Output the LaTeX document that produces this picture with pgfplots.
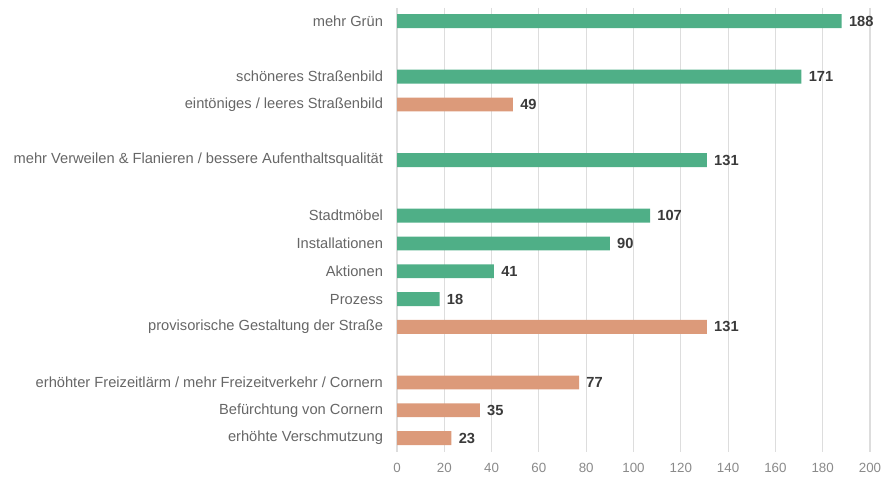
\documentclass[border=0pt]{standalone}
\usepackage{fontspec}
\setmainfont{Liberation Sans}
\usepackage{pgfplots}
\pgfplotsset{compat=1.18}

\definecolor{pos}{HTML}{4FAF87}
\definecolor{neg}{HTML}{DC9A7A}
\definecolor{gridc}{HTML}{DDDDDD}
\definecolor{labc}{HTML}{666666}
\definecolor{tickc}{HTML}{8A8A8A}
\definecolor{valc}{HTML}{3A3A3A}

\begin{document}
\begin{tikzpicture}
\path[use as bounding box] (0pt,0pt) rectangle (660.75pt,357.75pt);
\begin{axis}[
    at={(297.75pt,18.75pt)}, anchor=south west,
    scale only axis,
    width=354.75pt, height=333pt,
    xbar, bar width=0.5, bar shift=0pt,
    xmin=0, xmax=200,
    ymin=-0.47, ymax=15.5,
    y dir=reverse,
    xtick={0,20,...,200},
    ytick={0,2,3,5,7,8,9,10,11,13,14,15},
    yticklabels={
        mehr Grün,
        schöneres Straßenbild,
        eintöniges / leeres Straßenbild,
        mehr Verweilen \& Flanieren / bessere Aufenthaltsqualität,
        Stadtmöbel,
        Installationen,
        Aktionen,
        Prozess,
        provisorische Gestaltung der Straße,
        erhöhter Freizeitlärm / mehr Freizeitverkehr / Cornern,
        Befürchtung von Cornern,
        erhöhte Verschmutzung},
    axis line style={draw=none},
    major tick length=0pt,
    xmajorgrids,
    grid style={gridc, line width=0.8pt},
    x tick label style={font=\fontsize{10}{11}\selectfont, text=tickc, yshift=-5pt},
    y tick label style={font=\fontsize{11}{13}\selectfont, text=labc, xshift=-7pt},
    /pgf/number format/assume math mode=true,
    nodes near coords,
    nodes near coords style={font=\fontsize{11}{13}\selectfont\bfseries, text=valc, anchor=west, xshift=2pt},
    clip=false,
]
    % positive aspects
    \addplot[draw=none, fill=pos] coordinates {
        (188,0) (171,2) (131,5) (107,7) (90,8) (41,9) (18,10)
    };
    % negative aspects
    \addplot[draw=none, fill=neg] coordinates {
        (49,3) (131,11) (77,13) (35,14) (23,15)
    };
\end{axis}
\end{tikzpicture}
\end{document}
